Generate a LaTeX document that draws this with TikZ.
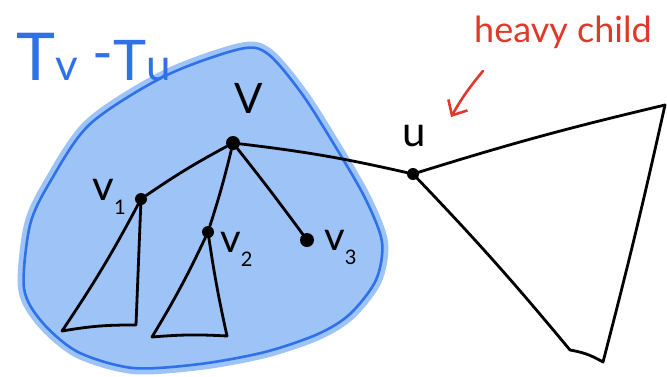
\documentclass[tikz,border=0pt]{standalone}
\usepackage{fontspec}
\setmainfont{Lato}
\usetikzlibrary{arrows.meta, positioning}
\definecolor{bleuclair}{HTML}{9DC3F7}
\definecolor{bleu}{HTML}{2F72E8}
\definecolor{rouge}{HTML}{E0392B}
\newcommand{\fsz}[1]{\fontsize{#1}{#1}\selectfont}
\newcommand{\idx}[1]{\raisebox{-0.35em}{\fsz{20}#1}}
\tikzset{
  noeud/.style={circle, fill=black, inner sep=0pt, minimum size=12pt},
  arete/.style={line width=2.8pt, line cap=round, line join=round},
  etiq/.style={inner sep=0pt, text=black},
  zone/.style={fill=bleuclair, draw=bleuclair, line width=12pt, line join=round},
  contour/.style={draw=bleu, line width=2.6pt},
  note/.style={inner sep=0pt, text=rouge, font=\fsz{36}},
  flecherouge/.style={-{Straight Barb[length=12pt, width=22pt]}, rouge, line width=2.6pt, line cap=round}
}
\begin{document}
\begin{tikzpicture}[x=1pt, y=-1pt]
  \useasboundingbox (0,0) rectangle (667,376);
  % sous-arbre T_v - T_u
  \path[zone] plot[smooth cycle, tension=0.5] coordinates {(240,49) (268,54) (302,94) (335,146) (365,198) (382,242) (376,280) (350,314) (318,334) (265,352) (200,364) (133,368) (78,352) (42,322) (24,288) (30,225) (50,182) (90,124) (165,76)};
  \path[contour] plot[smooth cycle, tension=0.5] coordinates {(240,49) (268,54) (302,94) (335,146) (365,198) (382,242) (376,280) (350,314) (318,334) (265,352) (200,364) (133,368) (78,352) (42,322) (24,288) (30,225) (50,182) (90,124) (165,76)};
  \node[etiq, text=bleu, anchor=base west] (titre) at (16,80) {\fsz{66}T\fsz{44}v\fsz{56} \raisebox{8pt}{-}T\fsz{44}u};

  \node[noeud, minimum size=14pt] (v) at (233,143) {};
  \node[noeud] (va) at (141,199) {};
  \node[noeud] (vb) at (208,232) {};
  \node[noeud, minimum size=14pt] (vc) at (307,240) {};
  \node[noeud] (u) at (413,174) {};

  \node[etiq, font=\fsz{42}, above=22pt of v, xshift=16pt] (lv) {V};
  \node[etiq, font=\fsz{42}, anchor=base east] (lva) at (126,200) {v\idx{1}};
  \node[etiq, font=\fsz{40}, anchor=base west] (lvb) at (220,252) {v\idx{2}};
  \node[etiq, font=\fsz{40}, anchor=base west] (lvc) at (324,250) {v\idx{3}};
  \node[etiq, font=\fsz{42}, anchor=base] (lu) at (414,146) {u};

  % sommets des triangles
  \coordinate (ag) at (62,331);
  \coordinate (ad) at (136,325);
  \coordinate (bg) at (152,337);
  \coordinate (bd) at (227,336);
  \coordinate (ch) at (665,105);
  \coordinate (cb) at (603,362);
  \coordinate (cp) at (570,350);

  \draw[arete] (v) to[bend right=3] (va);
  \draw[arete] (v) to[bend left=2] (vb);
  \draw[arete] (v) to[bend left=1] (vc);
  \draw[arete] (v) to[bend left=3] (u);

  \draw[arete] (va.center) to[bend left=3] (ag) to[bend left=5] (ad) -- (va.center);
  \draw[arete] (vb.center) to[bend left=3] (bg) to[bend left=4] (bd) to[bend left=2] (vb.center);
  \draw[arete] (u.center) to[bend left=2] (ch) to[bend left=1] (cb) to[bend right=10] (cp) to[bend right=2] (u.center);

  \node[note, anchor=base west] (lourd) at (474,42) {heavy child};
  \coordinate (fd) at (483,71);
  \coordinate (fa) at (451,117);
  \draw[flecherouge] (fd) to[bend right=5] (fa);
\end{tikzpicture}
\end{document}
